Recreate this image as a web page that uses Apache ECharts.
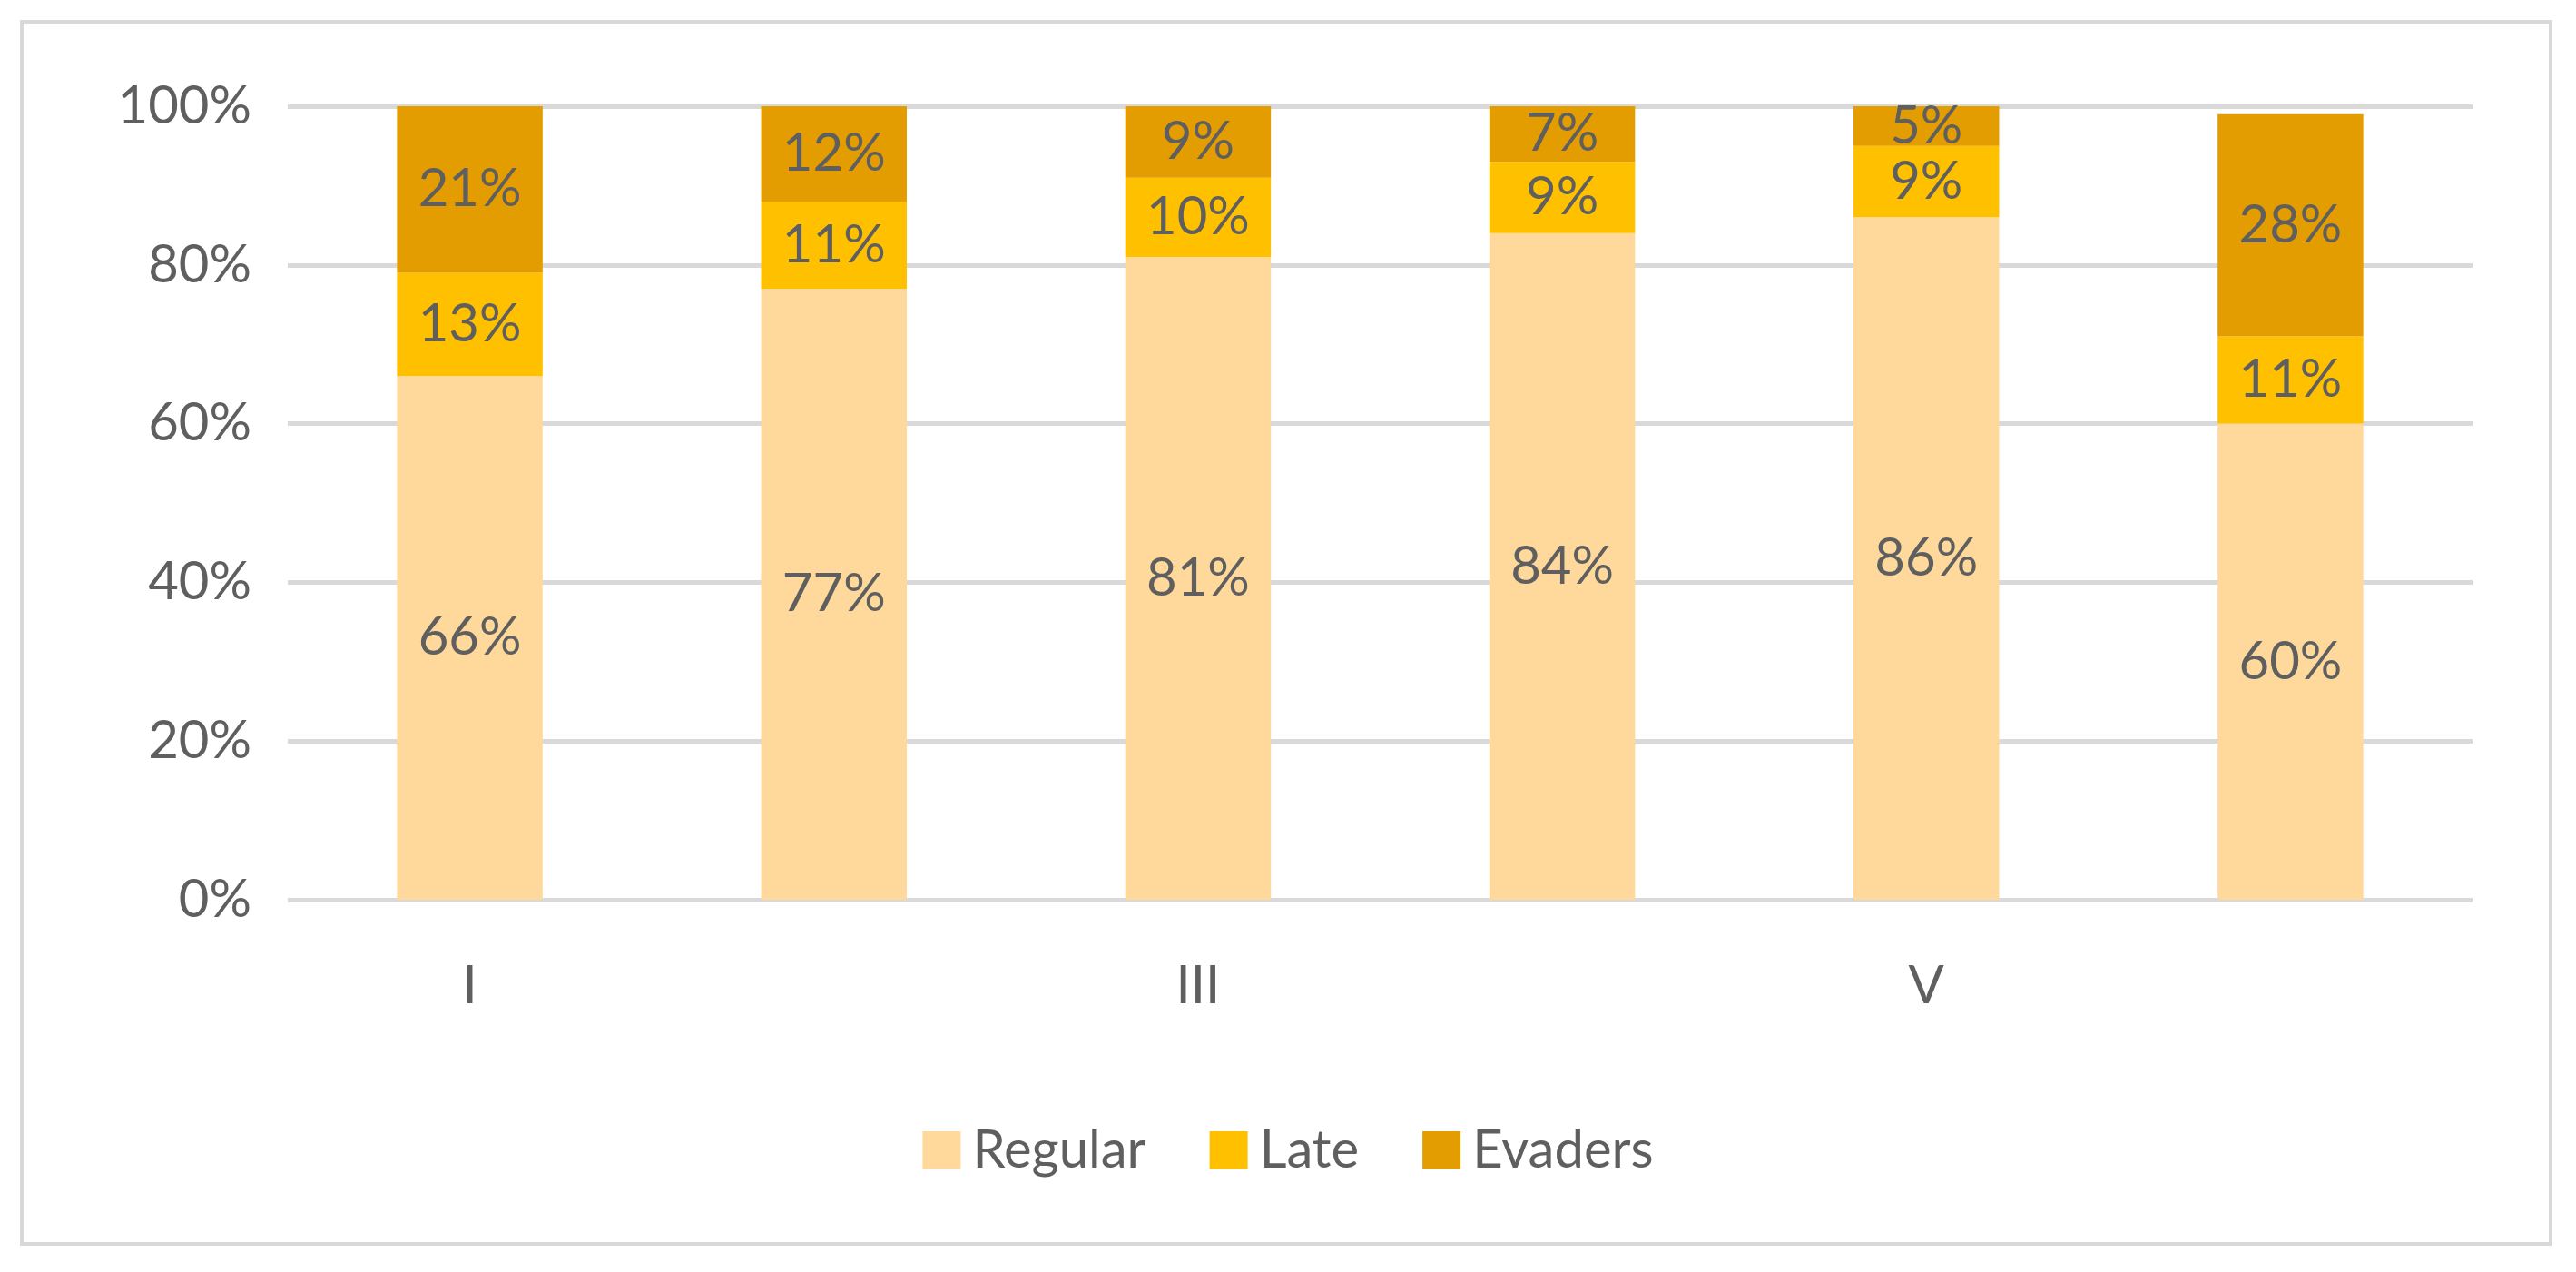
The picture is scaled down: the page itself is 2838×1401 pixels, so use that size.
<!DOCTYPE html>
<html><head><meta charset="utf-8">
<script src="https://cdn.jsdelivr.net/npm/echarts@6/dist/echarts.min.js"></script>
<style>html,body{margin:0;padding:0;background:#fff}
#frame{position:absolute;left:22px;top:22px;width:2790px;height:1350px;border:4px solid #d9d9d9;box-sizing:border-box}
#c{width:2838px;height:1401px}</style></head>
<body><div id="frame"></div><div id="c"></div>
<script>
const categories = ["I","II","III","IV","V","NA INCOME"];
const regular = [66,77,81,84,86,60];
const late = [13,11,10,9,9,11];
const evaders = [21,12,9,7,5,28];
const yTicks = [0,20,40,60,80,100];
const font = "Lato, 'Noto Sans', sans-serif";
const chart = echarts.init(document.getElementById('c'));
const lbl = {show:true, position:'inside', formatter:p=>p.value+'%', color:'#5f5f5f', fontSize:58, fontFamily:font};
function s(name,data,color){return {name,type:'bar',stack:'a',data,barWidth:'40%',itemStyle:{color},label:lbl};}
chart.setOption({
  animation:false,
  grid:{left:317,right:114,top:117,bottom:410,containLabel:false},
  legend:{bottom:100,left:'center',itemWidth:42,itemHeight:42,itemGap:70,icon:'rect',
    textStyle:{fontSize:58,color:'#5f5f5f',fontFamily:font,padding:[0,0,0,8]},data:['Regular','Late','Evaders']},
  xAxis:{type:'category',data:categories,axisLine:{show:false},axisTick:{show:false},
    axisLabel:{fontSize:58,color:'#5f5f5f',fontFamily:font,margin:66}},
  yAxis:{type:'value',min:0,max:100,interval:20,
    axisLabel:{formatter:v=>yTicks.includes(v)?v+'%':'',fontSize:58,color:'#5f5f5f',fontFamily:font,margin:40},
    splitLine:{lineStyle:{color:'#d9d9d9',width:5}}},
  series:[s('Regular',regular,'#FFD99B'),s('Late',late,'#FFC000'),s('Evaders',evaders,'#E39D00')]
});
</script></body></html>
